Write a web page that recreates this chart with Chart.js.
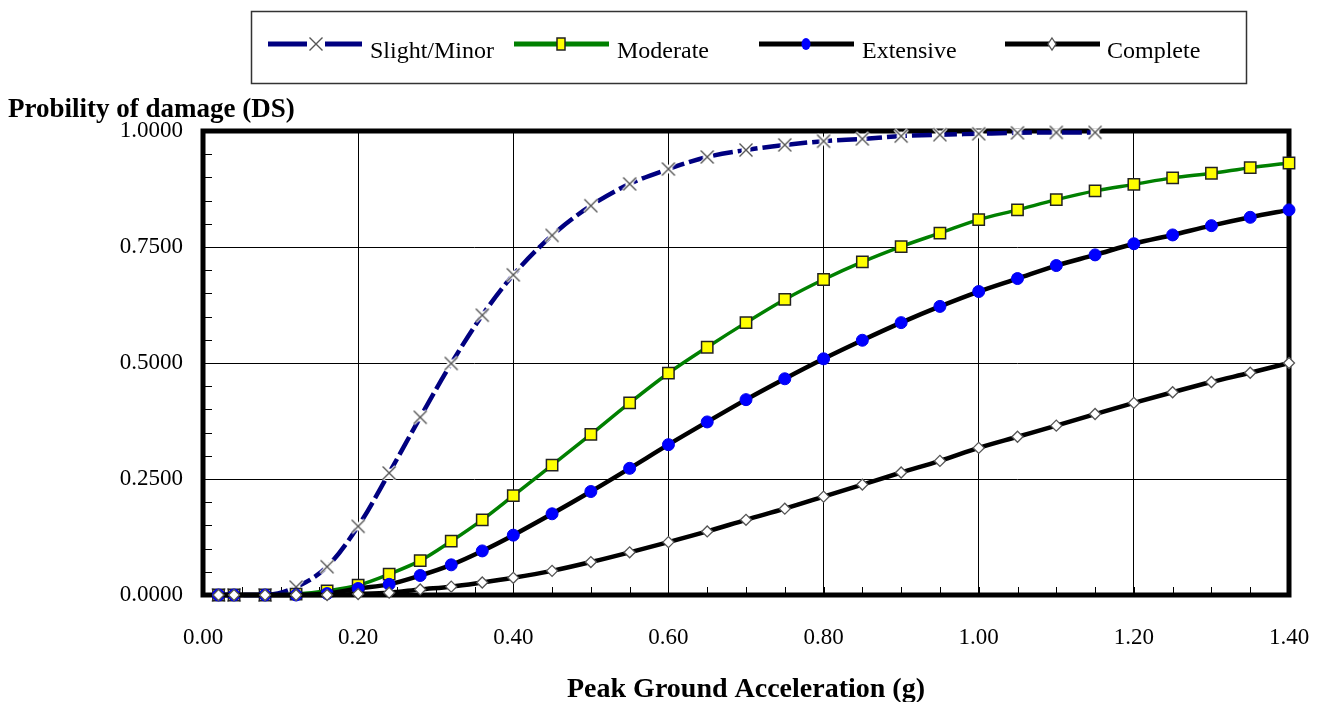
<!DOCTYPE html>
<html>
<head>
<meta charset="utf-8">
<script src="https://cdn.jsdelivr.net/npm/chart.js@4.4.0/dist/chart.umd.min.js"></script>
<style>
html,body{margin:0;padding:0;background:#fff;}
#wrap{width:1324px;height:702px;position:relative;}
canvas{display:block;}
</style>
</head>
<body>
<div id="wrap"><canvas id="c" width="1324" height="702"></canvas></div>
<script>
// ---- Data ----
const pga = [0.02,0.04,0.08,0.12,0.16,0.20,0.24,0.28,0.32,0.36,0.40,0.45,0.50,0.55,0.60,0.65,0.70,0.75,0.80,0.85,0.90,0.95,1.00,1.05,1.10,1.15,1.20,1.25,1.30,1.35,1.40];
const slightMinor = [0,0,0,0.017,0.061,0.148,0.263,0.383,0.499,0.603,0.690,0.775,0.839,0.886,0.918,0.944,0.959,0.970,0.978,0.983,0.989,0.992,0.994,0.996,0.997,0.997];
const moderate = [0,0,0,0.002,0.009,0.021,0.045,0.074,0.116,0.162,0.214,0.280,0.346,0.414,0.478,0.534,0.587,0.637,0.680,0.718,0.751,0.780,0.809,0.830,0.852,0.871,0.885,0.899,0.909,0.921,0.931];
const extensive = [0,0,0,0,0.003,0.014,0.023,0.042,0.065,0.095,0.129,0.175,0.223,0.273,0.324,0.373,0.421,0.466,0.509,0.549,0.587,0.622,0.654,0.682,0.710,0.733,0.757,0.776,0.796,0.814,0.830];
const complete = [0,0,0,0,0,0.002,0.005,0.012,0.018,0.027,0.037,0.052,0.071,0.092,0.114,0.137,0.162,0.186,0.212,0.238,0.264,0.289,0.317,0.341,0.365,0.390,0.414,0.437,0.459,0.479,0.500];
const seriesNames = ['Slight/Minor','Moderate','Extensive','Complete'];
const xTickStep = 0.2, xMin = 0, xMax = 1.4;
const yTickStep = 0.25, yMin = 0, yMax = 1;
const minorStep = 0.05;
const xTitle = 'Peak Ground Acceleration (g)';
const yTitle = 'Probility of damage (DS)';

const toPts = arr => arr.map((v, i) => ({x: pga[i], y: v}));

// X marker with white halo
function makeXMarker() {
  const s = 20, c = document.createElement('canvas');
  c.width = s; c.height = s;
  const g = c.getContext('2d');
  const m = s / 2, r = 6.5;
  g.fillStyle = '#fff';
  g.beginPath(); g.arc(m, m, 4.5, 0, Math.PI * 2); g.fill();
  const drawX = () => {
    g.beginPath();
    g.moveTo(m - r, m - r); g.lineTo(m + r, m + r);
    g.moveTo(m + r, m - r); g.lineTo(m - r, m + r);
    g.stroke();
  };
  g.strokeStyle = 'rgba(255,255,255,0.9)'; g.lineWidth = 3.5; drawX();
  g.strokeStyle = '#555'; g.lineWidth = 1.4; drawX();
  return c;
}
const xMarker = makeXMarker();

const SERIF = "'Liberation Serif', 'Times New Roman', serif";

const datasets = [
  {label: seriesNames[0], data: toPts(slightMinor), borderColor: '#000080', borderWidth: 4.5, borderDash: [20, 5],
   pointStyle: xMarker, pointRadius: 7, order: 3, cubicInterpolationMode: 'monotone', clip: false},
  {label: seriesNames[1], data: toPts(moderate), borderColor: '#008000', borderWidth: 3.5,
   pointStyle: 'rect', pointRadius: 8, pointBackgroundColor: '#FFFF00', pointBorderColor: '#222', pointBorderWidth: 1.5,
   order: 2, cubicInterpolationMode: 'monotone', clip: false},
  {label: seriesNames[2], data: toPts(extensive), borderColor: '#000', borderWidth: 4.5,
   pointStyle: 'circle', pointRadius: 6, pointBackgroundColor: '#0000FF', pointBorderColor: '#0000EE', pointBorderWidth: 1,
   order: 1, cubicInterpolationMode: 'monotone', clip: false},
  {label: seriesNames[3], data: toPts(complete), borderColor: '#000', borderWidth: 4.5,
   pointStyle: 'rectRot', pointRadius: 5.5, pointBackgroundColor: '#fff', pointBorderColor: '#555', pointBorderWidth: 1.3,
   order: 0, cubicInterpolationMode: 'monotone', clip: false}
];

const framePlugin = {
  id: 'frame',
  beforeDatasetsDraw(chart) {
    const {ctx, chartArea: a, scales: {x, y}} = chart;
    ctx.save();
    // minor ticks
    ctx.strokeStyle = '#000'; ctx.lineWidth = 1;
    ctx.beginPath();
    for (let v = xMin; v <= xMax + 1e-9; v += minorStep) {
      const px = Math.round(x.getPixelForValue(v)) + 0.5;
      ctx.moveTo(px, a.bottom); ctx.lineTo(px, a.bottom - 8);
    }
    for (let v = yMin; v <= yMax + 1e-9; v += minorStep) {
      const py = Math.round(y.getPixelForValue(v)) + 0.5;
      ctx.moveTo(a.left, py); ctx.lineTo(a.left + 9, py);
    }
    ctx.stroke();
    // thick frame
    ctx.lineWidth = 5; ctx.strokeStyle = '#000';
    ctx.strokeRect(a.left, a.top, a.right - a.left, a.bottom - a.top);
    ctx.restore();
  },
  afterDraw(chart) {
    const {ctx} = chart;
    ctx.save();
    ctx.fillStyle = '#000';
    ctx.textBaseline = 'alphabetic';
    ctx.font = "bold 27px " + SERIF;
    ctx.textAlign = 'left';
    ctx.fillText(yTitle, 8, 117);
    ctx.font = "bold 28px " + SERIF;
    ctx.textAlign = 'center';
    ctx.fillText(xTitle, (chart.chartArea.left + chart.chartArea.right) / 2, 697);

    // legend
    ctx.lineWidth = 1.5; ctx.strokeStyle = '#333';
    ctx.strokeRect(251.5, 11.5, 995, 72);
    const items = [
      {x0: 268, x1: 362, mx: 316, tx: 370},
      {x0: 514, x1: 609, mx: 561, tx: 617},
      {x0: 759, x1: 854, mx: 806, tx: 862},
      {x0: 1005, x1: 1100, mx: 1052, tx: 1107}
    ];
    const ly = 44;
    items.forEach((it, i) => {
      const ds = datasets[i];
      ctx.strokeStyle = ds.borderColor;
      ctx.lineWidth = 5;
      ctx.setLineDash([]);
      ctx.beginPath();
      if (i === 0) {
        ctx.moveTo(it.x0, ly); ctx.lineTo(it.mx - 9, ly);
        ctx.moveTo(it.mx + 9, ly); ctx.lineTo(it.x1, ly);
      } else {
        ctx.moveTo(it.x0, ly); ctx.lineTo(it.x1, ly);
      }
      ctx.stroke();
      // marker
      if (i === 0) {
        ctx.drawImage(xMarker, it.mx - xMarker.width / 2, ly - xMarker.height / 2);
      } else if (i === 1) {
        ctx.fillStyle = '#FFFF00'; ctx.strokeStyle = '#222'; ctx.lineWidth = 1.5;
        ctx.fillRect(it.mx - 4, ly - 6, 8, 12); ctx.strokeRect(it.mx - 4, ly - 6, 8, 12);
      } else if (i === 2) {
        ctx.fillStyle = '#0000FF';
        ctx.beginPath(); ctx.ellipse(it.mx, ly, 4.5, 6, 0, 0, Math.PI * 2); ctx.fill();
      } else {
        ctx.fillStyle = '#fff'; ctx.strokeStyle = '#555'; ctx.lineWidth = 1.3;
        ctx.beginPath();
        ctx.moveTo(it.mx, ly - 6); ctx.lineTo(it.mx + 4, ly); ctx.lineTo(it.mx, ly + 6); ctx.lineTo(it.mx - 4, ly); ctx.closePath();
        ctx.fill(); ctx.stroke();
      }
      ctx.fillStyle = '#000';
      ctx.font = "24px " + SERIF;
      ctx.textAlign = 'left';
      ctx.fillText(seriesNames[i], it.tx, 58);
    });
    ctx.restore();
  }
};

new Chart(document.getElementById('c'), {
  type: 'line',
  data: {datasets},
  options: {
    responsive: false,
    animation: false,
    devicePixelRatio: 1,
    layout: {padding: {top: 131, right: 35, bottom: 0, left: 0}},
    plugins: {legend: {display: false}, tooltip: {enabled: false}},
    scales: {
      x: {
        type: 'linear', min: xMin, max: xMax,
        afterFit(s) { s.height = 107; s.paddingLeft = 0; s.paddingRight = 0; },
        grid: {color: '#000', lineWidth: 1, drawTicks: false},
        border: {display: false},
        ticks: {stepSize: xTickStep, autoSkip: false, maxRotation: 0, padding: 29, color: '#000',
                font: {family: SERIF, size: 23},
                callback: v => Number(v).toFixed(2)}
      },
      y: {
        type: 'linear', min: yMin, max: yMax,
        afterFit(s) { s.width = 203; s.paddingTop = 0; s.paddingBottom = 0; },
        grid: {color: '#000', lineWidth: 1, drawTicks: false},
        border: {display: false},
        ticks: {stepSize: yTickStep, padding: 20, color: '#000',
                font: {family: SERIF, size: 23},
                callback: v => Number(v).toFixed(4)}
      }
    }
  },
  plugins: [framePlugin]
});
</script>
</body>
</html>
